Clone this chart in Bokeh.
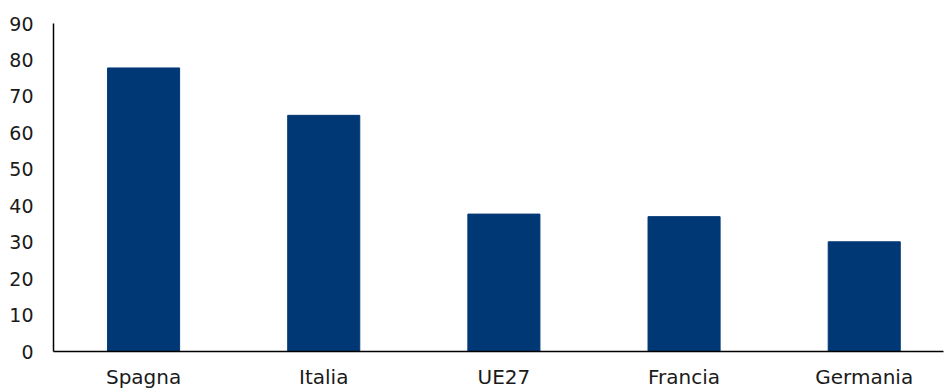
from bokeh.plotting import figure
from bokeh.models import Range1d, FixedTicker, ColumnDataSource
from bokeh.embed import file_html
from bokeh.resources import INLINE

categories = ["Spagna", "Italia", "UE27", "Francia", "Germania"]
values = [77.8, 64.8, 37.7, 37.0, 30.1]
y_ticks = [0, 10, 20, 30, 40, 50, 60, 70, 80, 90]

xpos = [i + 0.5 for i in range(len(categories))]
src = ColumnDataSource(dict(x=xpos, top=values, cat=categories))

p = figure(width=944, height=391, output_backend="svg", toolbar_location=None,
           x_range=Range1d(0, 4.94), y_range=Range1d(0, 90),
           min_border_left=53, min_border_right=1, min_border_top=23, min_border_bottom=39)
p.vbar(x="x", top="top", width=0.4, source=src, color="#003875")

p.grid.visible = False
p.outline_line_color = None

font = "DejaVu Sans"
p.xaxis.ticker = FixedTicker(ticks=xpos)
p.xaxis.major_label_overrides = {x: c for x, c in zip(xpos, categories)}
p.yaxis.ticker = FixedTicker(ticks=y_ticks)
for ax in (p.xaxis[0], p.yaxis[0]):
    ax.axis_line_color = "black"
    ax.axis_line_width = 1.5
    ax.major_tick_line_color = None
    ax.minor_tick_line_color = None
    ax.major_tick_out = 0
    ax.major_tick_in = 0
    ax.major_label_text_font = font
    ax.major_label_text_color = "#1a1a1a"
p.xaxis.major_label_text_font_size = "20px"
p.yaxis.major_label_text_font_size = "19px"
p.xaxis.major_label_standoff = 13
p.yaxis.major_label_standoff = 20

open("out.html", "w").write(file_html(p, INLINE))
